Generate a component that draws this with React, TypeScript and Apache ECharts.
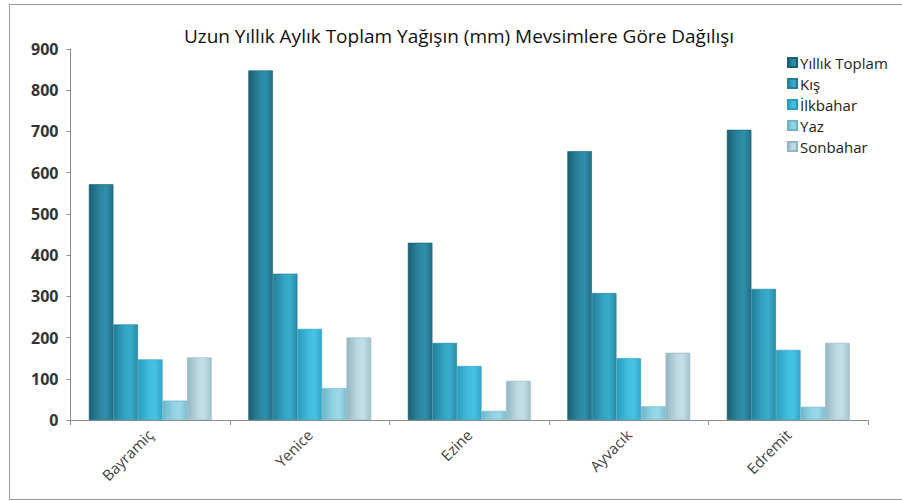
import React, { useEffect, useRef } from "react";
import * as echarts from "echarts";

const categories = ["Bayramiç", "Yenice", "Ezine", "Ayvacık", "Edremit"];
const seriesNames = ["Yıllık Toplam", "Kış", "İlkbahar", "Yaz", "Sonbahar"];
const yillikToplam = [572, 848, 430, 652, 704];
const kis = [232, 355, 187, 308, 318];
const ilkbahar = [147, 221, 131, 150, 170];
const yaz = [47, 77, 22, 33, 32];
const sonbahar = [152, 200, 95, 163, 187];
const yTicks = [0, 100, 200, 300, 400, 500, 600, 700, 800, 900];

const palettes = [
  ["#1b5f73", "#2b86a0", "#2f8fab", "#236f85"],
  ["#227f99", "#33a3c2", "#38adcb", "#2a8ba6"],
  ["#2a9dbd", "#3fbbdd", "#45c3e4", "#34a6c6"],
  ["#6cb6ca", "#93d2e3", "#9bd8e8", "#7cc0d3"],
  ["#93b6c2", "#bdd9e3", "#c3dee7", "#a2c3ce"],
];

function grad(p: string[]) {
  return new echarts.graphic.LinearGradient(0, 0, 1, 0, [
    { offset: 0, color: p[0] },
    { offset: 0.45, color: p[1] },
    { offset: 0.7, color: p[2] },
    { offset: 1, color: p[3] },
  ]);
}

export default function App() {
  const ref = useRef<HTMLDivElement>(null);
  useEffect(() => {
    if (!ref.current) return;
    const chart = echarts.init(ref.current, undefined, { renderer: "svg" });
    const data = [yillikToplam, kis, ilkbahar, yaz, sonbahar];
    chart.setOption({
      animation: false,
      backgroundColor: "#ffffff",
      title: {
        text: "Uzun Yıllık Aylık Toplam Yağışın (mm) Mevsimlere Göre Dağılışı",
        left: 454,
        textAlign: "center",
        top: 21,
        textStyle: {
          fontFamily: "Open Sans",
          fontSize: 19,
          fontWeight: "normal",
          color: "#111",
        },
      },
      legend: {
        orient: "vertical",
        left: 782,
        top: 50,
        itemWidth: 9,
        itemHeight: 9,
        itemGap: 6,
        icon: "rect",
        data: seriesNames,
        textStyle: {
          fontFamily: "Open Sans",
          fontSize: 15,
          color: "#222",
          lineHeight: 15,
          padding: [0, 0, 0, -2],
        },
      },
      grid: { left: 70.5, right: 34, top: 49, bottom: 81, containLabel: false },
      xAxis: {
        type: "category",
        data: categories,
        axisLine: { lineStyle: { color: "#8c8c8c", width: 1 } },
        axisTick: { show: true, length: 5, lineStyle: { color: "#8c8c8c" } },
        axisLabel: {
          rotate: 45,
          margin: 12,
          fontFamily: "Open Sans",
          fontSize: 15,
          color: "#404040",
        },
      },
      yAxis: {
        type: "value",
        min: yTicks[0],
        max: yTicks[yTicks.length - 1],
        interval: 100,
        splitLine: { show: false },
        axisLine: { show: true, lineStyle: { color: "#8c8c8c" } },
        axisTick: { show: true, length: 4, lineStyle: { color: "#8c8c8c" } },
        axisLabel: {
          margin: 12,
          fontFamily: "Open Sans",
          fontSize: 16,
          fontWeight: "bold",
          color: "#333",
        },
      },
      graphic: [
        {
          type: "rect",
          shape: { x: 9.5, y: 4.5, width: 900, height: 495 },
          style: { fill: "none", stroke: "#9a9a9a", lineWidth: 1 },
          silent: true,
          z: 100,
        },
      ],
      series: seriesNames.map((name, i) => ({
        name,
        type: "bar",
        data: data[i],
        barGap: "0%",
        barCategoryGap: "23%",
        itemStyle: {
          color: grad(palettes[i]),
          borderColor: palettes[i][0],
          borderWidth: 0.6,
        },
      })),
    });
    return () => chart.dispose();
  }, []);
  return (
    <div
      ref={ref}
      style={{ position: "absolute", left: 0, top: 0, width: 902, height: 501 }}
    />
  );
}
